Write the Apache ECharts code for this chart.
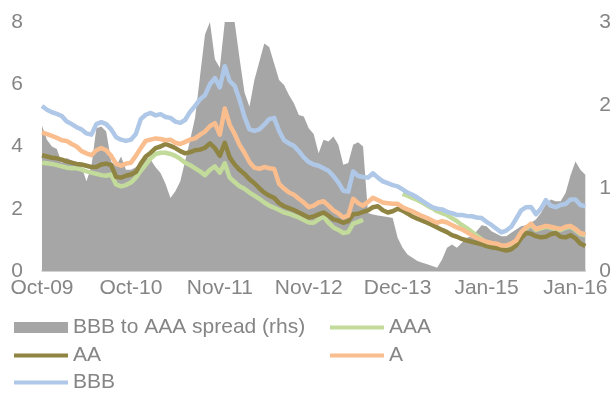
<!DOCTYPE html>
<html>
<head>
<meta charset="utf-8">
<script src="https://cdn.jsdelivr.net/npm/echarts@6/dist/echarts.min.js"></script>
<style>
  html, body { margin: 0; padding: 0; background: #ffffff; }
  #chart { width: 614px; height: 396px; }
</style>
</head>
<body>
<div id="chart"></div>
<script>
// Corporate bond yields by rating (%, left axis) and BBB-AAA spread (pp, right axis)
const tickLabels = ['Oct-09', 'Oct-10', 'Nov-11', 'Nov-12', 'Dec-13', 'Jan-15', 'Jan-16'];
const labelStep = 18;

const spread = [
  1.75, 1.58, 1.50, 1.47, 1.30, 1.36, 1.33, 1.30, 1.26, 1.08,
  1.26, 1.72, 1.74, 1.68, 1.32, 1.26, 1.38, 1.22, 1.22, 1.25,
  1.30, 1.37, 1.34, 1.25, 1.18, 1.05, 0.88, 0.96, 1.08, 1.33,
  1.58, 1.85, 2.35, 2.85, 3.00, 2.55, 2.45, 3.00, 3.00, 3.00,
  2.56, 2.15, 1.98, 2.30, 2.52, 2.74, 2.70, 2.50, 2.30, 2.24,
  2.12, 2.02, 1.88, 1.86, 1.72, 1.65, 1.42, 1.58, 1.56, 1.62,
  1.52, 1.28, 1.30, 1.52, 1.55, 1.50, 0.70, 0.68, 0.67, 0.66,
  0.65, 0.64, 0.40, 0.28, 0.20, 0.16, 0.12, 0.10, 0.08, 0.06,
  0.04, 0.14, 0.28, 0.32, 0.28, 0.34, 0.40, 0.42, 0.48, 0.55,
  0.54, 0.48, 0.45, 0.42, 0.42, 0.46, 0.50, 0.54, 0.55, 0.58,
  0.62, 0.70, 0.80, 0.86, 0.84, 0.84, 0.94, 1.15, 1.32, 1.22,
  1.16
];

const aaa = [
  3.48, 3.46, 3.44, 3.40, 3.36, 3.32, 3.30, 3.30, 3.26, 3.20,
  3.16, 3.12, 3.08, 3.06, 3.10, 2.78, 2.72, 2.76, 2.84, 3.00,
  3.22, 3.42, 3.62, 3.76, 3.80, 3.80, 3.76, 3.70, 3.60, 3.48,
  3.40, 3.30, 3.20, 3.08, 3.25, 3.36, 3.16, 3.46, 3.00, 2.86,
  2.72, 2.64, 2.52, 2.42, 2.32, 2.20, 2.10, 2.03, 1.96, 1.88,
  1.84, 1.78, 1.72, 1.64, 1.56, 1.55, 1.66, 1.75, 1.55, 1.40,
  1.32, 1.22, 1.25, 1.52, 1.58, 1.64, null, null, null, null,
  null, null, null, 2.48, 2.42, 2.35, 2.28, 2.20, 2.10, 2.02,
  1.92, 1.86, 1.80, 1.70, 1.60, 1.48, 1.38, 1.26, 1.14, 1.02,
  0.91, 0.87, 0.85, 0.79, 0.79, 0.85, 0.95, 1.22, 1.37, 1.49,
  1.32, 1.37, 1.42, 1.39, 1.35, 1.32, 1.39, 1.42, 1.32, 1.19,
  1.15
];

const aa = [
  3.72, 3.68, 3.64, 3.62, 3.58, 3.52, 3.48, 3.44, 3.42, 3.38,
  3.34, 3.34, 3.42, 3.45, 3.40, 3.02, 3.00, 3.06, 3.10, 3.18,
  3.45, 3.68, 3.80, 3.95, 4.00, 4.08, 4.02, 3.95, 3.85, 3.78,
  3.82, 3.88, 3.90, 3.96, 4.10, 3.95, 3.70, 4.12, 3.65, 3.42,
  3.25, 3.12, 2.95, 2.82, 2.66, 2.52, 2.42, 2.35, 2.18, 2.08,
  2.02, 1.96, 1.88, 1.80, 1.72, 1.75, 1.82, 1.88, 1.78, 1.66,
  1.62, 1.55, 1.60, 1.82, 1.84, 1.90, 1.95, 2.05, 2.08, 1.95,
  1.88, 1.92, 2.00, 1.94, 1.85, 1.75, 1.68, 1.62, 1.55, 1.48,
  1.40, 1.32, 1.25, 1.15, 1.10, 1.03, 0.98, 0.94, 0.90, 0.86,
  0.80, 0.76, 0.74, 0.70, 0.66, 0.70, 0.82, 1.05, 1.22, 1.20,
  1.12, 1.08, 1.10, 1.18, 1.22, 1.10, 1.08, 1.15, 1.05, 0.88,
  0.80
];

const a = [
  4.45, 4.40, 4.34, 4.28, 4.20, 4.18, 4.08, 4.00, 3.85, 3.78,
  3.72, 3.88, 3.95, 3.88, 3.70, 3.45, 3.38, 3.45, 3.48, 3.70,
  3.95, 4.18, 4.22, 4.26, 4.24, 4.20, 4.22, 4.12, 4.08, 4.15,
  4.22, 4.26, 4.38, 4.48, 4.65, 4.75, 4.38, 5.22, 4.70, 4.40,
  4.05, 3.80, 3.50, 3.32, 3.28, 3.34, 3.30, 3.28, 2.80, 2.65,
  2.52, 2.45, 2.32, 2.20, 2.05, 2.10, 2.20, 2.24, 2.10, 1.95,
  1.85, 1.72, 1.78, 2.32, 2.18, 2.10, 2.22, 2.35, 2.28, 2.20,
  2.18, 2.16, 2.16, 2.05, 1.98, 1.92, 1.84, 1.76, 1.70, 1.62,
  1.55, 1.60, 1.56, 1.48, 1.40, 1.34, 1.25, 1.15, 1.06, 1.00,
  0.94, 0.90, 0.88, 0.82, 0.82, 0.88, 0.98, 1.25, 1.40, 1.52,
  1.35, 1.40, 1.45, 1.42, 1.38, 1.35, 1.42, 1.45, 1.35, 1.22,
  1.18
];

const bbb = [
  5.30, 5.18, 5.10, 5.05, 4.98, 4.80, 4.72, 4.62, 4.55, 4.42,
  4.38, 4.72, 4.78, 4.72, 4.55, 4.30, 4.22, 4.18, 4.22, 4.40,
  4.88, 5.02, 5.08, 5.00, 5.04, 4.95, 4.92, 4.80, 4.76, 4.86,
  5.12, 5.30, 5.52, 5.65, 6.00, 6.20, 5.90, 6.58, 6.10, 5.95,
  5.50, 4.95, 4.55, 4.50, 4.55, 4.70, 4.88, 4.92, 4.50, 4.20,
  4.10, 4.02, 3.85, 3.65, 3.50, 3.42, 3.38, 3.30, 3.22, 3.05,
  2.85, 2.58, 2.55, 3.20, 3.05, 3.02, 3.00, 3.14, 3.00, 2.88,
  2.82, 2.76, 2.72, 2.62, 2.52, 2.45, 2.36, 2.25, 2.15, 2.05,
  2.00, 1.98, 1.90, 1.86, 1.80, 1.80, 1.77, 1.76, 1.72, 1.70,
  1.58, 1.48, 1.36, 1.24, 1.30, 1.42, 1.68, 1.95, 2.05, 2.06,
  1.82, 2.00, 2.28, 2.10, 2.05, 2.12, 2.15, 2.30, 2.30, 2.12,
  2.08
];

// Observation dates, one every three weeks
const categories = [];
(function () {
  const start = Date.UTC(2009, 9, 1);
  for (let i = 0; i < bbb.length; i++) {
    const d = new Date(start + i * 21 * 86400000);
    categories.push(d.toISOString().slice(0, 10));
  }
})();

const textGray = '#858585';
const font = "'Liberation Sans', Arial, sans-serif";

const colors = {
  spread: '#a6a6a6',
  aaa: '#c2da9a',
  aa: '#8f8442',
  a: '#f9bd8e',
  bbb: '#afc8e7'
};

function lineSeries(name, data, color) {
  return {
    name: name,
    type: 'line',
    data: data,
    yAxisIndex: 0,
    symbol: 'none',
    connectNulls: false,
    color: color,
    itemStyle: { color: color },
    lineStyle: { color: color, width: 4.5, join: 'round' },
    animation: false
  };
}

function legendAt(name, left, top, iconHeight) {
  return {
    data: [{ name: name, icon: 'rect' }],
    left: left,
    top: top,
    padding: 0,
    itemWidth: 54,
    itemHeight: iconHeight,
    itemGap: 0,
    selectedMode: false,
    textStyle: { color: textGray, fontSize: 21, fontFamily: font }
  };
}

const chart = echarts.init(document.getElementById('chart'), null, { renderer: 'canvas' });

chart.setOption({
  backgroundColor: '#ffffff',
  animation: false,
  grid: { left: 42, right: 21, top: 22, bottom: 125, containLabel: false },
  legend: [
    legendAt('BBB to AAA spread (rhs)', 14, 317, 11),
    legendAt('AAA', 330, 317, 4),
    legendAt('AA', 14, 345, 4),
    legendAt('A', 330, 345, 4),
    legendAt('BBB', 14, 372, 4)
  ],
  xAxis: {
    type: 'category',
    data: categories,
    boundaryGap: false,
    axisLine: { show: true, lineStyle: { color: '#c4c4c4', width: 1.5 } },
    axisTick: { show: false },
    splitLine: { show: false },
    axisLabel: {
      color: textGray,
      fontSize: 21,
      fontFamily: font,
      margin: 7,
      interval: function (index) { return index % labelStep === 0; },
      formatter: function (value, index) { return tickLabels[index / labelStep] || ''; }
    }
  },
  yAxis: [
    {
      type: 'value',
      min: 0,
      max: 8,
      interval: 2,
      axisLine: { show: false },
      axisTick: { show: false },
      splitLine: { show: false },
      axisLabel: { color: textGray, fontSize: 21, fontFamily: font, margin: 19 }
    },
    {
      type: 'value',
      position: 'right',
      min: 0,
      max: 3,
      interval: 1,
      axisLine: { show: false },
      axisTick: { show: false },
      splitLine: { show: false },
      axisLabel: { color: textGray, fontSize: 21, fontFamily: font, margin: 14 }
    }
  ],
  series: [
    {
      name: 'BBB to AAA spread (rhs)',
      type: 'line',
      data: spread,
      yAxisIndex: 1,
      symbol: 'none',
      color: colors.spread,
      itemStyle: { color: colors.spread },
      lineStyle: { width: 0, color: colors.spread },
      areaStyle: { color: colors.spread, opacity: 1 },
      clip: true,
      animation: false
    },
    lineSeries('AAA', aaa, colors.aaa),
    lineSeries('AA', aa, colors.aa),
    lineSeries('A', a, colors.a),
    lineSeries('BBB', bbb, colors.bbb)
  ]
});
</script>
</body>
</html>
